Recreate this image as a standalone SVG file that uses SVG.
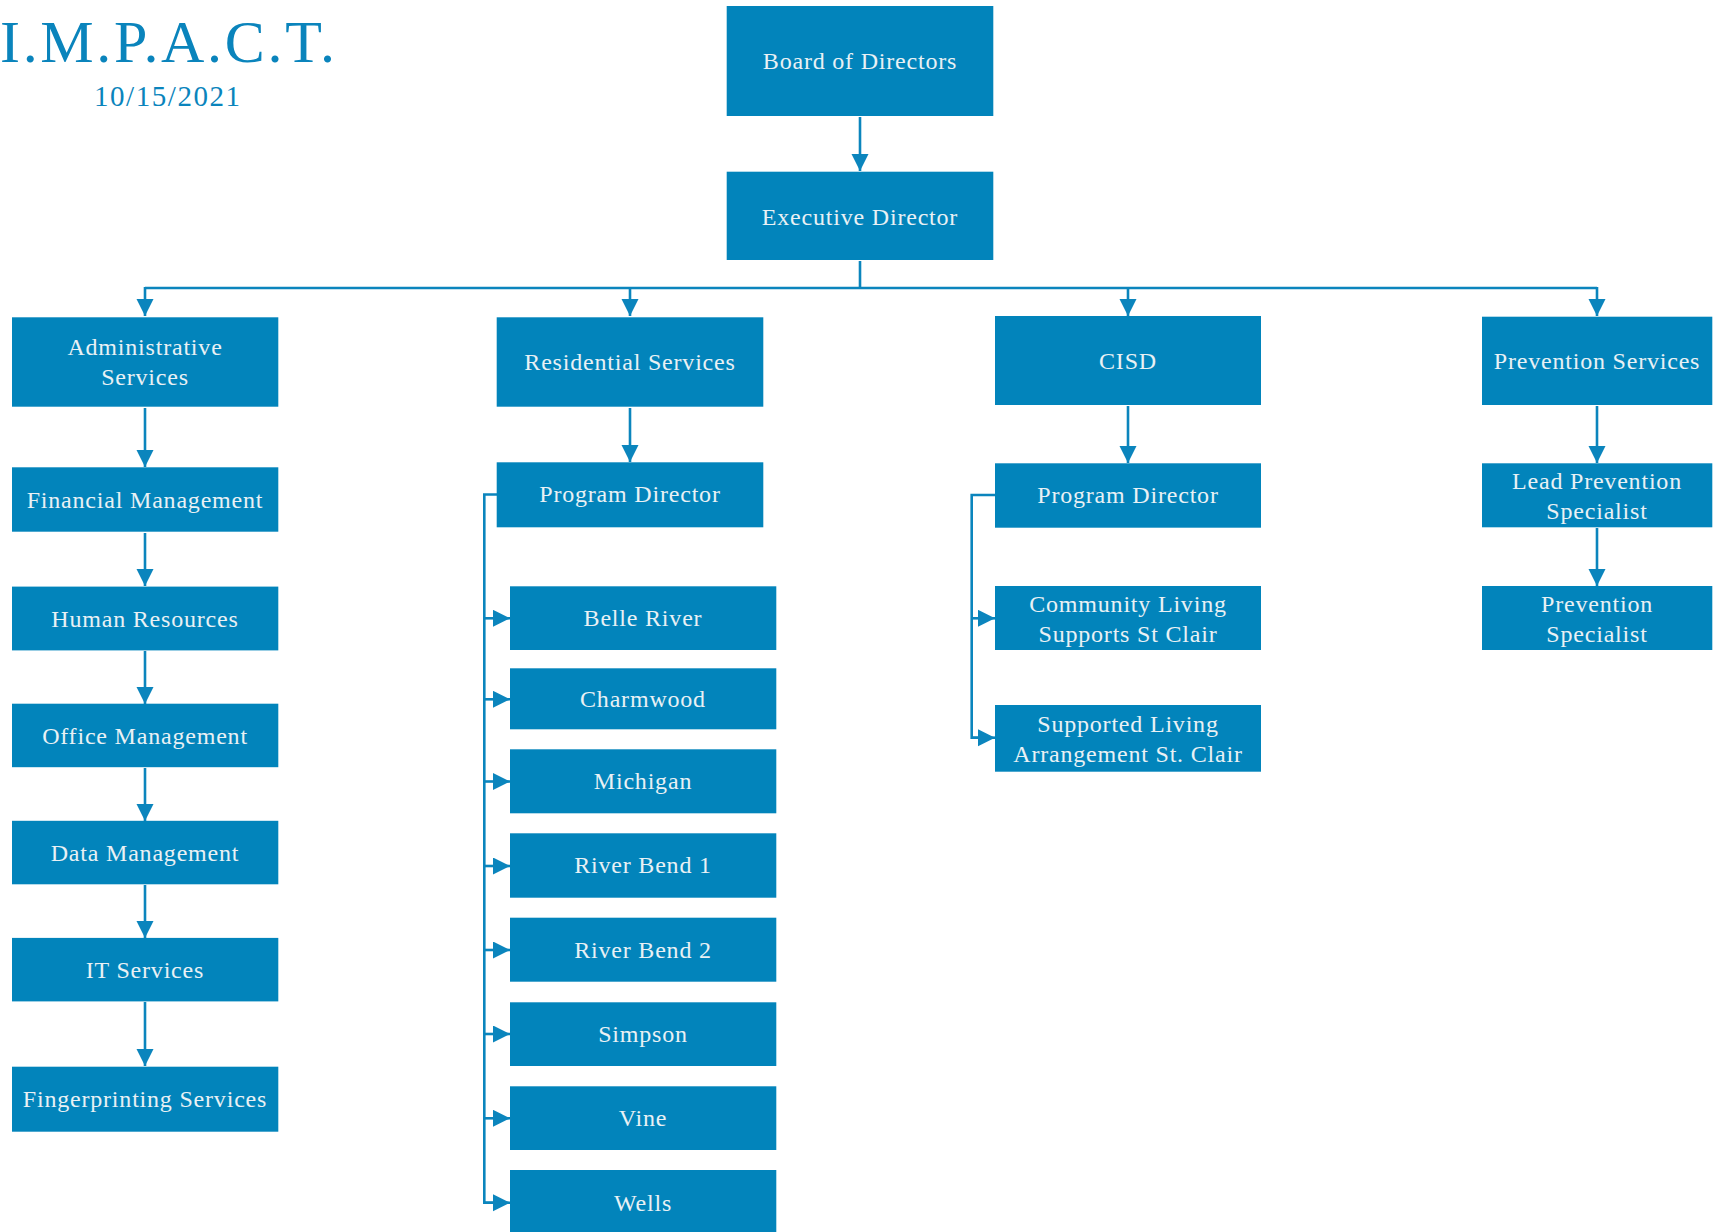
<svg xmlns="http://www.w3.org/2000/svg" width="1716" height="1232" viewBox="0 0 1716 1232">
<defs>
<style>
.box{fill:#0284BB;}
.t{font-family:"Liberation Serif","Times New Roman",serif;font-size:24px;fill:#E9F1F5;text-anchor:middle;letter-spacing:0.8px;}
.ln{stroke:#0B85BD;stroke-width:2.6;fill:none;}
.ttl{font-family:"Liberation Serif","Times New Roman",serif;fill:#0A84BC;}
</style>
<marker id="ah" markerUnits="userSpaceOnUse" markerWidth="18" markerHeight="18" refX="17" refY="8.5" orient="auto" viewBox="0 0 18 18">
<path d="M0,0 L17,8.5 L0,17 z" fill="#0B85BD"/>
</marker>
</defs>
<rect width="1716" height="1232" fill="#FFFFFF"/>
<g id="title">
<text class="ttl" x="0" y="62" font-size="60" textLength="335" lengthAdjust="spacing">I.M.P.A.C.T.</text>
<text class="ttl" x="94" y="106" font-size="29" textLength="146" lengthAdjust="spacing">10/15/2021</text>
</g>
<g id="connectors">
<line class="ln" x1="860" y1="117" x2="860" y2="171" marker-end="url(#ah)"/>
<line class="ln" x1="860" y1="261" x2="860" y2="288"/>
<line class="ln" x1="145" y1="288" x2="1597" y2="288"/>
<line class="ln" x1="145" y1="287" x2="145" y2="316" marker-end="url(#ah)"/>
<line class="ln" x1="630" y1="287" x2="630" y2="316" marker-end="url(#ah)"/>
<line class="ln" x1="1128" y1="287" x2="1128" y2="316" marker-end="url(#ah)"/>
<line class="ln" x1="1597" y1="287" x2="1597" y2="316" marker-end="url(#ah)"/>
<line class="ln" x1="145" y1="408" x2="145" y2="467" marker-end="url(#ah)"/>
<line class="ln" x1="145" y1="533" x2="145" y2="586" marker-end="url(#ah)"/>
<line class="ln" x1="145" y1="651" x2="145" y2="704" marker-end="url(#ah)"/>
<line class="ln" x1="145" y1="768" x2="145" y2="821" marker-end="url(#ah)"/>
<line class="ln" x1="145" y1="885" x2="145" y2="938" marker-end="url(#ah)"/>
<line class="ln" x1="145" y1="1002" x2="145" y2="1066" marker-end="url(#ah)"/>
<line class="ln" x1="630" y1="408" x2="630" y2="462" marker-end="url(#ah)"/>
<line class="ln" x1="1128" y1="406" x2="1128" y2="463" marker-end="url(#ah)"/>
<line class="ln" x1="1597" y1="406" x2="1597" y2="463" marker-end="url(#ah)"/>
<line class="ln" x1="1597" y1="528" x2="1597" y2="586" marker-end="url(#ah)"/>
<polyline class="ln" points="497,494.5 484.3,494.5 484.3,1202.7 493,1202.7"/>
<line class="ln" x1="484" y1="618.3" x2="510" y2="618.3" marker-end="url(#ah)"/>
<line class="ln" x1="484" y1="699.3" x2="510" y2="699.3" marker-end="url(#ah)"/>
<line class="ln" x1="484" y1="781.5" x2="510" y2="781.5" marker-end="url(#ah)"/>
<line class="ln" x1="484" y1="866" x2="510" y2="866" marker-end="url(#ah)"/>
<line class="ln" x1="484" y1="950" x2="510" y2="950" marker-end="url(#ah)"/>
<line class="ln" x1="484" y1="1034" x2="510" y2="1034" marker-end="url(#ah)"/>
<line class="ln" x1="484" y1="1118.3" x2="510" y2="1118.3" marker-end="url(#ah)"/>
<line class="ln" x1="484" y1="1202.7" x2="510" y2="1202.7" marker-end="url(#ah)"/>
<polyline class="ln" points="995,495 971.7,495 971.7,737.7 978,737.7"/>
<line class="ln" x1="971.5" y1="618.3" x2="995" y2="618.3" marker-end="url(#ah)"/>
<line class="ln" x1="971.5" y1="737.7" x2="995" y2="737.7" marker-end="url(#ah)"/>
</g>
<g id="board"><rect class="box" x="726.7" y="6" width="266.6" height="110"/><text class="t" x="860" y="69">Board of Directors</text></g>
<g id="executive"><rect class="box" x="726.7" y="171.7" width="266.6" height="88.3"/><text class="t" x="860" y="225">Executive Director</text></g>
<g id="admin"><rect class="box" x="12" y="317.3" width="266.3" height="89.4"/><text class="t" x="145" y="355">Administrative</text><text class="t" x="145" y="385">Services</text></g>
<g id="financial"><rect class="box" x="12" y="467.3" width="266.3" height="64.4"/><text class="t" x="145" y="508.3">Financial Management</text></g>
<g id="hr"><rect class="box" x="12" y="586.6" width="266.3" height="63.8"/><text class="t" x="145" y="627">Human Resources</text></g>
<g id="office"><rect class="box" x="12" y="703.7" width="266.3" height="63.5"/><text class="t" x="145" y="744">Office Management</text></g>
<g id="data"><rect class="box" x="12" y="820.8" width="266.3" height="63.5"/><text class="t" x="145" y="861">Data Management</text></g>
<g id="it"><rect class="box" x="12" y="937.9" width="266.3" height="63.5"/><text class="t" x="145" y="978">IT Services</text></g>
<g id="fingerprint"><rect class="box" x="12" y="1066.7" width="266.3" height="65"/><text class="t" x="145" y="1107.3">Fingerprinting Services</text></g>
<g id="residential"><rect class="box" x="496.7" y="317.3" width="266.6" height="89.4"/><text class="t" x="630" y="370">Residential Services</text></g>
<g id="res-pd"><rect class="box" x="496.7" y="462.3" width="266.6" height="65"/><text class="t" x="630" y="502.3">Program Director</text></g>
<g id="belle"><rect class="box" x="510" y="586.3" width="266.3" height="63.7"/><text class="t" x="643" y="626">Belle River</text></g>
<g id="charmwood"><rect class="box" x="510" y="668.3" width="266.3" height="61"/><text class="t" x="643" y="706.7">Charmwood</text></g>
<g id="michigan"><rect class="box" x="510" y="749.3" width="266.3" height="64"/><text class="t" x="643" y="789.3">Michigan</text></g>
<g id="rb1"><rect class="box" x="510" y="833.3" width="266.3" height="64.4"/><text class="t" x="643" y="873.3">River Bend 1</text></g>
<g id="rb2"><rect class="box" x="510" y="917.7" width="266.3" height="64"/><text class="t" x="643" y="957.7">River Bend 2</text></g>
<g id="simpson"><rect class="box" x="510" y="1002.3" width="266.3" height="63.7"/><text class="t" x="643" y="1041.7">Simpson</text></g>
<g id="vine"><rect class="box" x="510" y="1086.3" width="266.3" height="63.7"/><text class="t" x="643" y="1126">Vine</text></g>
<g id="wells"><rect class="box" x="510" y="1170" width="266.3" height="64"/><text class="t" x="643" y="1210.7">Wells</text></g>
<g id="cisd"><rect class="box" x="995" y="316" width="266" height="89"/><text class="t" x="1128" y="369">CISD</text></g>
<g id="cisd-pd"><rect class="box" x="995" y="463.3" width="266" height="64.4"/><text class="t" x="1128" y="503.3">Program Director</text></g>
<g id="community"><rect class="box" x="995" y="586" width="266" height="64"/><text class="t" x="1128" y="611.7">Community Living</text><text class="t" x="1128" y="641.7">Supports St Clair</text></g>
<g id="supported"><rect class="box" x="995" y="705" width="266" height="66.7"/><text class="t" x="1128" y="731.7">Supported Living</text><text class="t" x="1128" y="761.7">Arrangement St. Clair</text></g>
<g id="prevention"><rect class="box" x="1482" y="316.7" width="230.3" height="88.3"/><text class="t" x="1597" y="369">Prevention Services</text></g>
<g id="lead"><rect class="box" x="1482" y="463.3" width="230.3" height="64"/><text class="t" x="1597" y="489.3">Lead Prevention</text><text class="t" x="1597" y="519.3">Specialist</text></g>
<g id="specialist"><rect class="box" x="1482" y="586" width="230.3" height="64"/><text class="t" x="1597" y="612">Prevention</text><text class="t" x="1597" y="642">Specialist</text></g>
</svg>
